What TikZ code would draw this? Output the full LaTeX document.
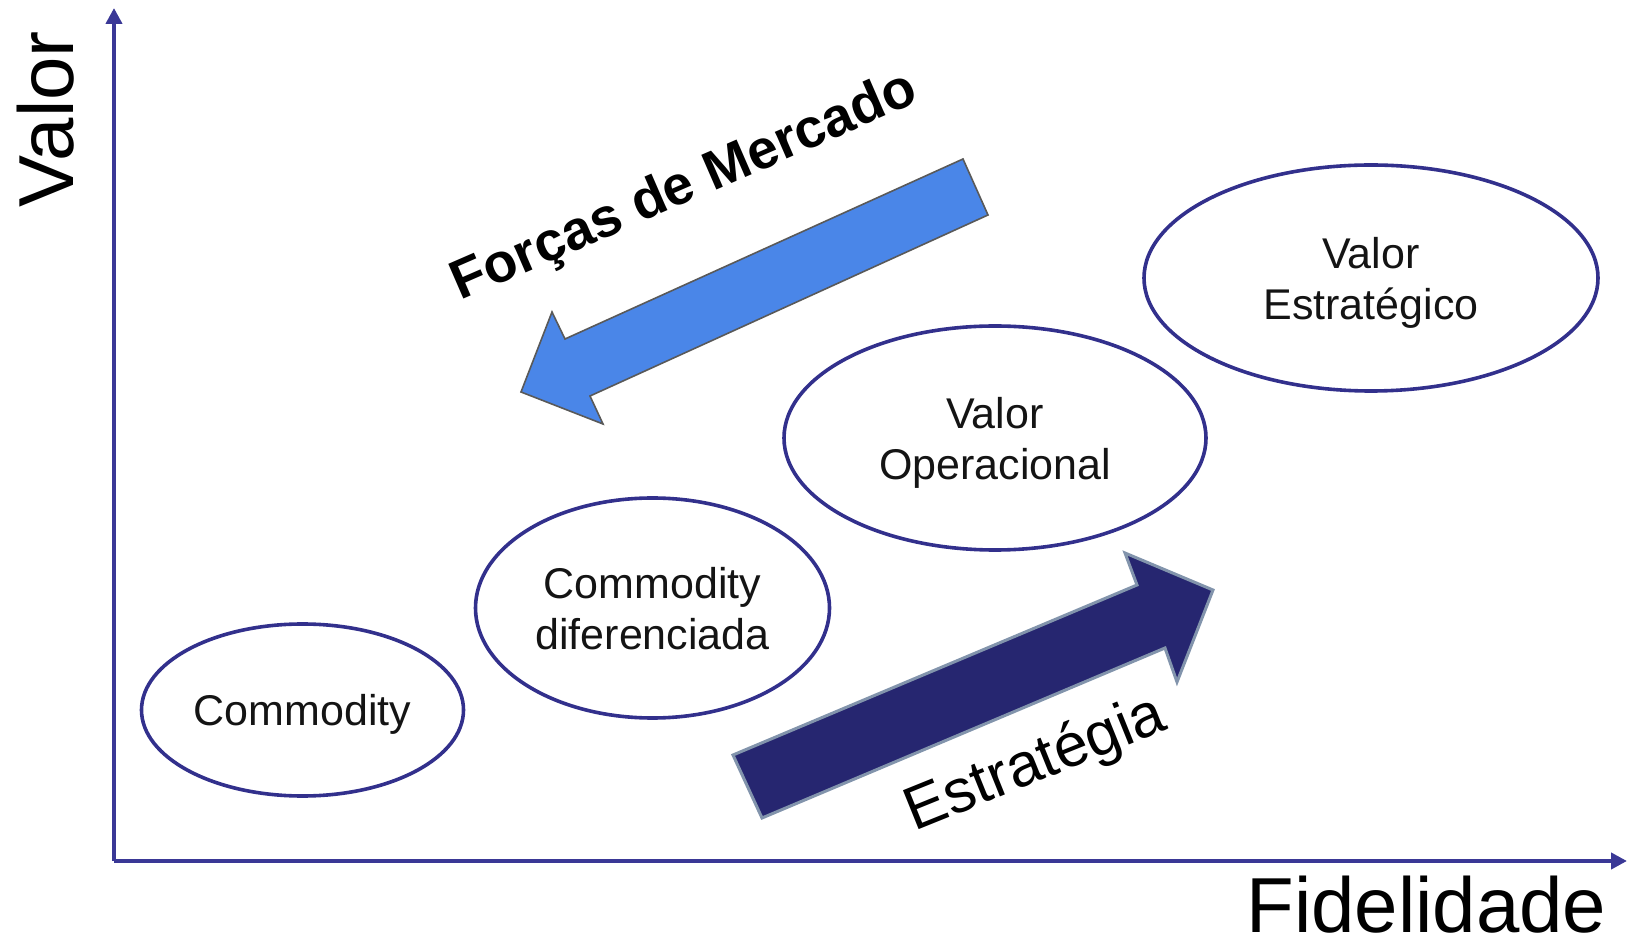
\documentclass[tikz,border=0pt]{standalone}
\usepackage{fontspec}
\setmainfont{Liberation Sans}
\usetikzlibrary{shapes.geometric,arrows.meta}
\definecolor{axisblue}{RGB}{58,56,150}
\definecolor{ellblue}{RGB}{50,48,140}
\definecolor{mktblue}{RGB}{74,134,232}
\definecolor{navyfill}{RGB}{38,38,112}
\definecolor{navyedge}{RGB}{130,148,172}
\definecolor{txt}{RGB}{20,20,20}
\begin{document}
\begin{tikzpicture}[x=0.5pt,y=-0.5pt,
  stage/.style={ellipse, draw=ellblue, line width=1.8pt, inner sep=0pt, align=center, text=txt, text depth=0pt, font=\fontsize{21.5}{25.5}\selectfont},
  axisline/.style={draw=axisblue, line width=2pt, -{Triangle[length=8pt,width=8pt]}},
  axlabel/.style={font=\fontsize{39}{41}\selectfont, inner sep=0pt, text=black},
  mktarrow/.style={fill=mktblue, draw=black!65, line width=0.8pt, line join=miter},
  strarrow/.style={fill=navyfill, draw=navyedge, line width=1.5pt, line join=miter},
]
\useasboundingbox (0,0) rectangle (1628,940);

% axes
\coordinate (O) at (114,861);
\coordinate (ytop) at (114,8);
\coordinate (xend) at (1627,861);
\draw[axisline] (O) -- (ytop);
\draw[axisline] (O) -- (xend);
\node[axlabel, rotate=90, anchor=base west] (valor) at (73,208) {Valor};
\node[axlabel, anchor=base west] (fid) at (1246,932) {Fidelidade};

% stages
\node[stage, minimum width=161pt, minimum height=86pt] (comm) at (302.5,710) {Commodity};
\node[stage, minimum width=177pt, minimum height=110pt] (dif) at (652.5,608) {Commodity\\diferenciada};
\node[stage, minimum width=211pt, minimum height=112pt] (oper) at (995,438) {Valor\\Operacional};
\node[stage, minimum width=227pt, minimum height=113pt] (estr) at (1371,278) {Valor\\Estratégico};

% market forces arrow
\draw[mktarrow] (521,392) -- (552,312) -- (565,339) -- (963,159) -- (988,215) -- (590,396) -- (603,424) -- cycle;
\node[rotate=23.5, inner sep=0pt, font=\fontsize{27.5}{29}\selectfont\bfseries] (forcas) at (685,188) {Forças de Mercado};

% strategy arrow
\draw[strarrow] (733,755) -- (1137,585) -- (1125,553) -- (1213,590) -- (1177,682) -- (1165,648) -- (762,818) -- cycle;
\node[rotate=22, inner sep=0pt, font=\fontsize{30.5}{32}\selectfont] (estrat) at (1036,765) {Estratégia};
\end{tikzpicture}
\end{document}
